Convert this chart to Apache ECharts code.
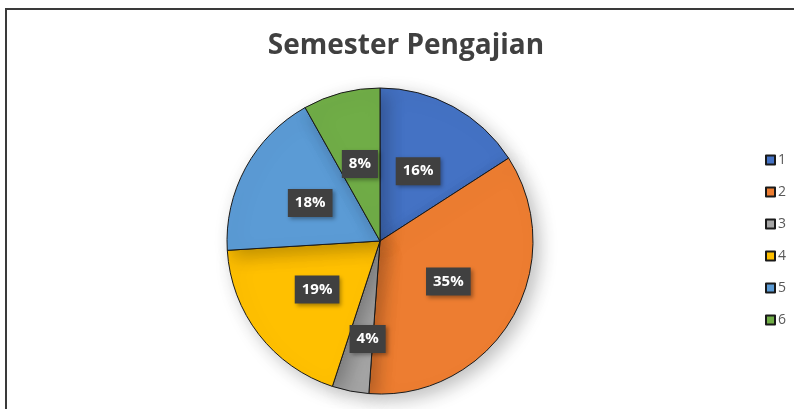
<!DOCTYPE html>
<html>
<head>
<meta charset="utf-8">
<script src="https://cdn.jsdelivr.net/npm/echarts@6/dist/echarts.min.js"></script>
<style>
html, body { margin: 0; padding: 0; background: #fff; }
#main { width: 794px; height: 409px; }
</style>
</head>
<body>
<div id="main"></div>
<script>
var semesters = ['1', '2', '3', '4', '5', '6'];
var counts = [41, 91, 10, 49, 46, 21];
var colors = ['#4472C4', '#ED7D31', '#A5A5A5', '#FFC000', '#5B9BD5', '#70AD47'];

var dom = document.getElementById('main');
var myChart = echarts.init(dom);
var option = {
    backgroundColor: '#fff',
    color: colors,
    title: {
        text: 'Semester Pengajian',
        left: 401,
        textAlign: 'center',
        top: 27,
        textStyle: {
            fontFamily: 'Open Sans',
            fontSize: 28,
            fontWeight: 'bold',
            color: '#404040'
        }
    },
    legend: {
        orient: 'vertical',
        left: 760,
        top: 148,
        itemWidth: 9,
        itemHeight: 9,
        itemGap: 18,
        icon: 'rect',
        textStyle: {
            fontFamily: 'Open Sans',
            fontSize: 14,
            lineHeight: 14,
            color: '#595959',
            padding: [0, 0, 0, -2]
        },
        data: semesters
    },
    graphic: [
        {
            type: 'polyline',
            shape: { points: [[6, 409], [6, 9], [794, 9]] },
            style: { fill: null, stroke: '#3a3a3a', lineWidth: 2 }
        }
    ],
    series: [{
        name: 'Semester Pengajian',
        type: 'pie',
        center: [380, 241],
        radius: 153,
        startAngle: 90,
        clockwise: true,
        avoidLabelOverlap: false,
        itemStyle: {
            borderColor: '#1a1a1a',
            borderWidth: 1,
            shadowBlur: 18,
            shadowOffsetX: 6,
            shadowOffsetY: 6,
            shadowColor: 'rgba(0,0,0,0.25)'
        },
        label: {
            position: 'inside',
            formatter: function (p) { return Math.round(p.percent) + '%'; },
            color: '#fff',
            fontFamily: 'Open Sans',
            fontWeight: 'bold',
            fontSize: 15,
            backgroundColor: '#404040',
            padding: [7, 7, 6, 7],
            shadowBlur: 4,
            shadowOffsetX: 2,
            shadowOffsetY: 2,
            shadowColor: 'rgba(0,0,0,0.35)'
        },
        labelLine: { show: false },
        labelLayout: function (params) {
            if (params.dataIndex === 2) {
                return { dx: 3, dy: 20 };
            }
            return {};
        },
        emphasis: { disabled: true },
        data: semesters.map(function (s, i) {
            return { name: s, value: counts[i] };
        })
    }]
};
myChart.setOption(option);
</script>
</body>
</html>
